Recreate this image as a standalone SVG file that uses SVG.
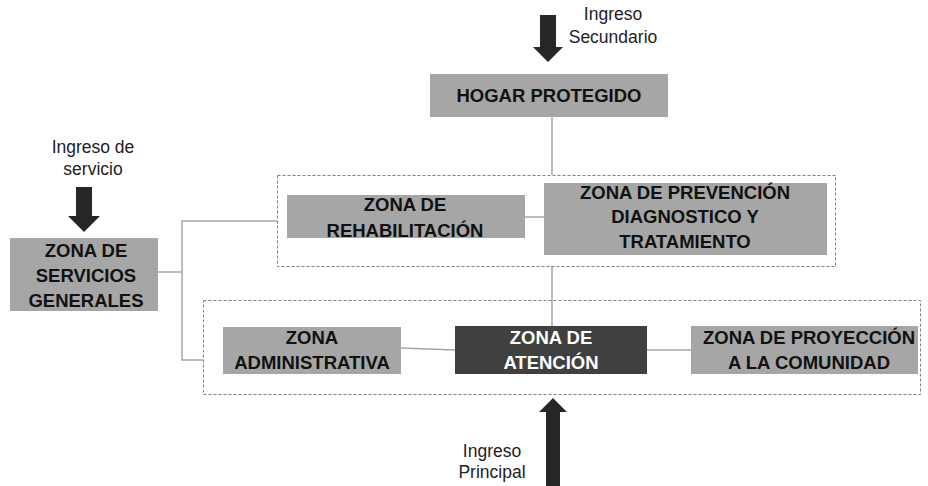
<svg xmlns="http://www.w3.org/2000/svg" width="928" height="486" viewBox="0 0 928 486">
<style>
.box{fill:#a6a6a6}
.dark{fill:#404040}
.lbl{font-family:"Liberation Sans",Arial,sans-serif;font-weight:bold;font-size:18.5px;fill:#111;text-anchor:middle}
.wl{fill:#fff}
.note{font-family:"Liberation Sans",Arial,sans-serif;font-size:17.5px;fill:#222;text-anchor:middle}
.zone{fill:none;stroke:#808080;stroke-width:1;stroke-dasharray:3 2}
.con{fill:none;stroke:#a6a6a6;stroke-width:1.5}
.arr{fill:#262626}
</style>
<rect width="928" height="486" fill="#fff"/>
<g id="connectors">
<line class="con" x1="552" y1="117" x2="552" y2="175"/>
<line class="con" x1="552" y1="266" x2="552" y2="326"/>
<line class="con" x1="525" y1="217" x2="544" y2="217"/>
<polyline class="con" points="157,272 182,272"/>
<polyline class="con" points="277,221 182,221 182,360 203,360"/>
<line class="con" x1="401" y1="348" x2="455" y2="350"/>
<line class="con" x1="647" y1="350" x2="691" y2="350"/>
</g>
<g id="zone-top"><rect class="zone" x="277.5" y="175.5" width="558" height="91"/></g>
<g id="zone-bottom"><rect class="zone" x="203.5" y="300.5" width="717" height="94"/></g>
<g id="arrow-secundario">
<polygon class="arr" points="540,15 556,15 556,47 563,47 548,62 533,47 540,47"/>
<text class="note" x="613" y="20">Ingreso</text>
<text class="note" x="613" y="43">Secundario</text>
</g>
<g id="arrow-servicio">
<polygon class="arr" points="76,187 92,187 92,216 100,216 84,232 68,216 76,216"/>
<text class="note" x="93" y="153">Ingreso de</text>
<text class="note" x="93" y="175">servicio</text>
</g>
<g id="arrow-principal">
<polygon class="arr" points="546,486 560,486 560,412 567,412 553,398 539,412 546,412"/>
<text class="note" x="492" y="457">Ingreso</text>
<text class="note" x="492" y="478">Principal</text>
</g>
<g id="hogar">
<rect class="box" x="430" y="74" width="238" height="43"/>
<text class="lbl" x="549" y="102">HOGAR PROTEGIDO</text>
</g>
<g id="servicios">
<rect class="box" x="10" y="238" width="148" height="73"/>
<text class="lbl" x="86" y="257">ZONA DE</text>
<text class="lbl" x="86" y="282">SERVICIOS</text>
<text class="lbl" x="86" y="307">GENERALES</text>
</g>
<g id="rehabilitacion">
<rect class="box" x="287" y="195" width="238" height="43"/>
<text class="lbl" x="405" y="211">ZONA DE</text>
<text class="lbl" x="405" y="237">REHABILITACIÓN</text>
</g>
<g id="prevencion">
<rect class="box" x="544" y="183" width="283" height="72"/>
<text class="lbl" x="685" y="199">ZONA DE PREVENCIÓN</text>
<text class="lbl" x="685" y="223">DIAGNOSTICO Y</text>
<text class="lbl" x="685" y="248">TRATAMIENTO</text>
</g>
<g id="administrativa">
<rect class="box" x="223" y="327" width="178" height="47"/>
<text class="lbl" x="312" y="344">ZONA</text>
<text class="lbl" x="312" y="369">ADMINISTRATIVA</text>
</g>
<g id="atencion">
<rect class="dark" x="455" y="326" width="192" height="48"/>
<text class="lbl wl" x="551" y="344">ZONA DE</text>
<text class="lbl wl" x="551" y="369">ATENCIÓN</text>
</g>
<g id="proyeccion">
<rect class="box" x="691" y="326" width="227" height="48"/>
<text class="lbl" x="809" y="344">ZONA DE PROYECCIÓN</text>
<text class="lbl" x="809" y="369">A LA COMUNIDAD</text>
</g>
</svg>
